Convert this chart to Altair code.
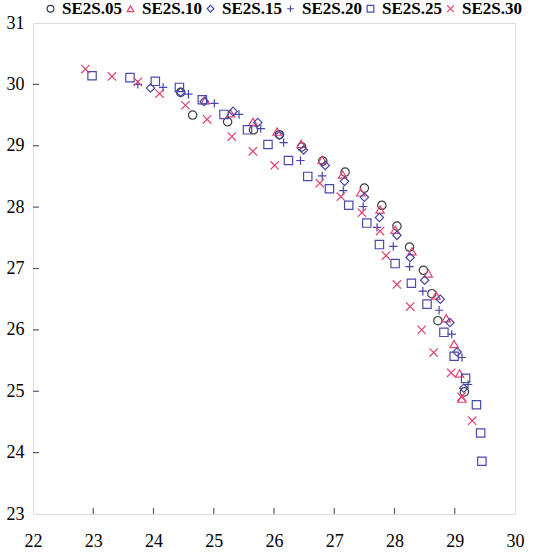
import altair as alt
import pandas as pd

series_names = ["SE2S.05", "SE2S.10", "SE2S.15", "SE2S.20", "SE2S.25", "SE2S.30"]
series_shapes = ["circle", "triangle-up", "diamond", "M-1,0L1,0M0,-1L0,1", "square", "M-1,-1L1,1M-1,1L1,-1"]
series_colors = ["#3c3c3c", "#e2426f", "#4646a8", "#4646a8", "#4a4aac", "#e2426f"]

se05_x = [24.45, 24.65, 25.23, 25.66, 26.09, 26.46, 26.81, 27.18, 27.50, 27.79, 28.04, 28.25, 28.48, 28.62, 28.72, 29.16]
se05_y = [29.87, 29.50, 29.39, 29.26, 29.18, 28.98, 28.75, 28.57, 28.31, 28.03, 27.69, 27.35, 26.97, 26.59, 26.15, 24.99]

se10_x = [24.86, 25.28, 25.65, 26.05, 26.45, 26.80, 27.14, 27.44, 27.76, 28.01, 28.29, 28.56, 28.69, 28.86, 28.99, 29.08, 29.12]
se10_y = [29.74, 29.53, 29.39, 29.23, 29.03, 28.77, 28.53, 28.24, 27.96, 27.63, 27.28, 26.92, 26.56, 26.19, 25.77, 25.29, 24.88]

se15_x = [23.95, 24.45, 24.84, 25.32, 25.73, 26.09, 26.49, 26.85, 27.17, 27.50, 27.75, 28.04, 28.26, 28.50, 28.76, 28.92, 29.04, 29.15]
se15_y = [29.94, 29.87, 29.72, 29.56, 29.38, 29.17, 28.93, 28.68, 28.42, 28.16, 27.83, 27.54, 27.18, 26.81, 26.50, 26.12, 25.64, 25.05]

se20_x = [23.74, 24.16, 24.58, 25.01, 25.42, 25.78, 26.16, 26.44, 26.80, 27.15, 27.48, 27.71, 27.98, 28.25, 28.47, 28.74, 28.95, 29.12, 29.22]
se20_y = [30.00, 29.95, 29.84, 29.69, 29.51, 29.28, 29.05, 28.76, 28.51, 28.27, 28.01, 27.67, 27.36, 27.03, 26.63, 26.32, 25.93, 25.55, 25.11]

se25_x = [22.98, 23.61, 24.03, 24.43, 24.81, 25.17, 25.56, 25.90, 26.24, 26.56, 26.92, 27.24, 27.54, 27.75, 28.01, 28.28, 28.54, 28.82, 28.99, 29.18, 29.36, 29.43, 29.45]
se25_y = [30.14, 30.11, 30.05, 29.95, 29.75, 29.51, 29.26, 29.02, 28.76, 28.50, 28.30, 28.03, 27.74, 27.39, 27.08, 26.76, 26.42, 25.96, 25.57, 25.21, 24.78, 24.32, 23.86]

se30_x = [22.87, 23.31, 23.74, 24.10, 24.53, 24.89, 25.30, 25.65, 26.01, 26.76, 27.11, 27.46, 27.76, 27.86, 28.04, 28.26, 28.45, 28.65, 28.94, 29.11, 29.29]
se30_y = [30.25, 30.13, 30.04, 29.85, 29.66, 29.43, 29.15, 28.91, 28.68, 28.39, 28.17, 27.91, 27.61, 27.21, 26.74, 26.38, 26.00, 25.63, 25.30, 24.91, 24.52]

x_labels = [22, 23, 24, 25, 26, 27, 28, 29, 30]
y_labels = [23, 24, 25, 26, 27, 28, 29, 30, 31]
x_inner_ticks = [23, 24, 25, 26, 27, 28, 29]
y_inner_ticks = [24, 25, 26, 27, 28, 29, 30]

xs = [se05_x, se10_x, se15_x, se20_x, se25_x, se30_x]
ys = [se05_y, se10_y, se15_y, se20_y, se25_y, se30_y]
rows = []
for name, sx, sy in zip(series_names, xs, ys):
    for a, b in zip(sx, sy):
        rows.append({"series": name, "x": a, "y": b})
df = pd.DataFrame(rows)

W, H = 482, 491
FRAME = "#55597a"
SERIF = "Liberation Serif"
xscale = alt.Scale(domain=[22, 30], nice=False, zero=False)
yscale = alt.Scale(domain=[23, 31], nice=False, zero=False)

legend = alt.Legend(
    orient="none", legendX=9, legendY=-23, direction="horizontal", title=None,
    labelFont=SERIF, labelFontSize=17, labelFontWeight="bold", labelColor="black",
    symbolSize=45, symbolStrokeWidth=1.2, labelOffset=3, columnPadding=0, padding=0,
)

points = alt.Chart(df).mark_point(filled=False, size=70, strokeWidth=1.2, opacity=1).encode(
    x=alt.X("x:Q", scale=xscale, axis=alt.Axis(values=x_labels, title=None, grid=False, ticks=False, domain=False,
                                              labelFont=SERIF, labelFontSize=18, labelColor="black",
                                              labelPadding=18, labelFlush=False, labelOverlap=False, format="d")),
    y=alt.Y("y:Q", scale=yscale, axis=alt.Axis(values=y_labels, title=None, grid=False, ticks=False, domain=False,
                                              labelFont=SERIF, labelFontSize=18, labelColor="black",
                                              labelPadding=9, labelFlush=False, labelOverlap=False, format="d")),
    shape=alt.Shape("series:N", scale=alt.Scale(domain=series_names, range=series_shapes), legend=legend),
    color=alt.Color("series:N", scale=alt.Scale(domain=series_names, range=series_colors), legend=legend),
)

xt = alt.Chart(pd.DataFrame({"v": x_inner_ticks})).mark_rule(color=FRAME, strokeWidth=1.2).encode(
    x=alt.X("v:Q", scale=xscale), y=alt.value(H), y2=alt.value(H - 6)
)
yt = alt.Chart(pd.DataFrame({"v": y_inner_ticks})).mark_rule(color=FRAME, strokeWidth=1.2).encode(
    y=alt.Y("v:Q", scale=yscale), x=alt.value(0), x2=alt.value(6)
)

chart = alt.layer(xt, yt, points).properties(
    width=W, height=H, autosize="none",
    padding={"left": 33, "top": 23, "right": 32, "bottom": 42},
).configure_view(stroke=FRAME, strokeWidth=1.3).configure(background="white")

chart.save("out.html", embed_options={"renderer": "svg", "actions": False})
